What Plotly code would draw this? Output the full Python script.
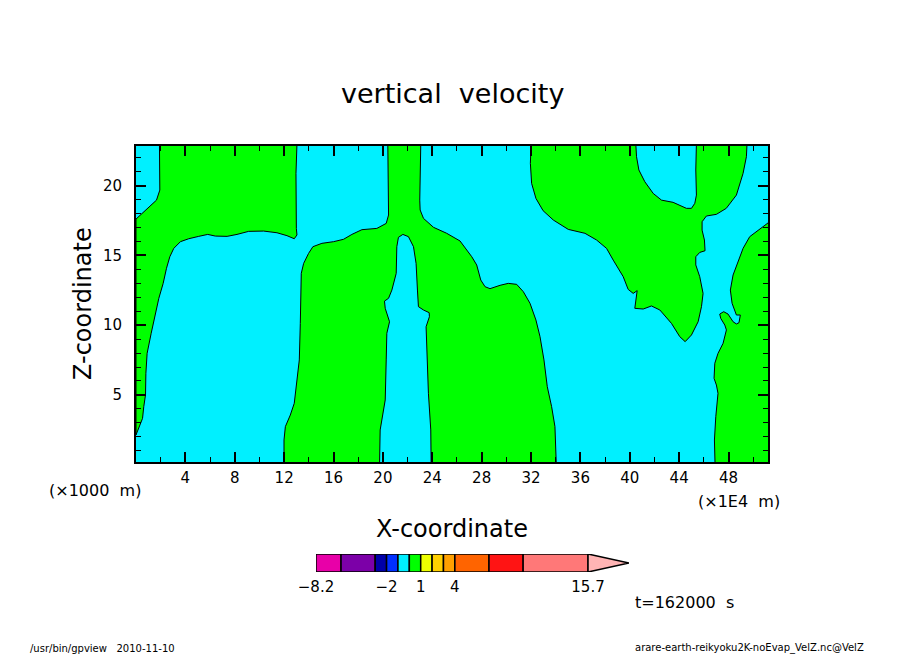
import plotly.graph_objects as go

W, H = 904, 654

# plot frame in data units
x_range = [0, 51.2]
z_range = [0.17, 22.85]
x_ticks = [4, 8, 12, 16, 20, 24, 28, 32, 36, 40, 44, 48]
x_minor = [2, 6, 10, 14, 18, 22, 26, 30, 34, 38, 42, 46, 50]
z_ticks = [5, 10, 15, 20]
z_minor = [1, 2, 3, 4, 6, 7, 8, 9, 11, 12, 13, 14, 16, 17, 18, 19, 21, 22]

# green regions of the contour plot, outlines (x, z)
left_x = [1.90, 1.93, 1.66, 0.90, 0, 0, 0.15, 0.53, 0.63, 0.77, 0.80, 0.90, 1.23, 1.50, 1.85, 2.20,
          2.47, 2.74, 3.06, 3.60, 4.27, 5.08, 5.81, 6.43, 7.38, 8.18, 9.13, 10.34, 11.42, 12.23,
          12.82, 13.04, 12.99, 12.96, 13.04]
left_z = [23, 19.69, 18.97, 18.38, 17.61, 2.13, 2.49, 3.32, 4.16, 5.0, 6.55, 7.98, 9.42, 10.61, 11.93, 13.0,
          14.08, 14.91, 15.51, 15.99, 16.20, 16.37, 16.51, 16.39, 16.37, 16.51, 16.73, 16.75, 16.63, 16.42,
          16.20, 16.47, 16.94, 20.89, 23]

middle_x = [11.99, 11.99, 12.10, 12.50, 12.82, 12.99, 13.23, 13.31, 13.39, 13.58, 13.98, 14.33, 15.06, 16.01,
            16.81, 17.49, 18.30, 19.51, 20.27, 20.46, 20.46, 20.40, 23.07, 23.02, 22.99, 23.02, 23.29, 24.10,
            25.17, 26.25, 26.66, 27.20, 27.60, 27.93, 28.28, 28.68, 29.49, 30.16, 30.84, 31.38, 31.92, 32.40,
            32.73, 33.05, 33.32, 33.67, 33.94, 34.05, 23.91, 23.88, 23.69, 23.56, 23.50, 23.77, 23.75, 23.29,
            22.88, 22.80, 22.69, 22.48, 22.07, 21.62, 21.26, 21.13, 21.08, 20.73, 20.46, 20.13, 20.19, 20.54,
            20.32, 20.27, 20.19, 19.78, 19.73]
middle_z = [0, 1.77, 2.73, 3.56, 4.40, 5.59, 7.51, 10.13, 13.72, 14.43, 15.15, 15.63, 15.87, 15.99,
            16.16, 16.51, 16.85, 16.94, 17.30, 17.90, 20.89, 23, 23, 20.89, 18.97, 18.26, 17.66, 17.02,
            16.59, 16.04, 15.58, 14.91, 14.32, 13.24, 12.76, 12.62, 12.86, 13.0, 12.93, 12.40, 11.57, 10.37,
            9.18, 7.51, 5.59, 4.16, 2.73, 0, 0, 2.49, 5.12, 8.94, 9.89, 10.61, 10.90, 11.09,
            11.33, 12.52, 14.43, 15.63, 16.35, 16.51, 16.30, 15.63, 13.72, 12.52, 11.93, 11.73, 11.21, 10.25,
            9.42, 7.51, 4.64, 2.49, 0]

upper_x = [32.00, 31.95, 32.05, 32.40, 32.98, 33.81, 35.02, 36.37, 37.31, 38.12, 38.66, 39.47, 39.87, 40.28,
           40.60, 40.49, 40.41, 41.09, 41.76, 42.44, 43.38, 44.05, 44.49, 45.00, 45.54, 45.81, 45.94, 45.67,
           45.35, 45.35, 45.67, 46.10, 46.05, 45.86, 45.86, 46.21, 47.02, 47.82, 48.64, 49.18, 49.45, 49.50,
           45.40, 45.35, 45.40, 45.27, 45.00, 44.59, 43.51, 42.57, 41.90, 41.22, 40.74, 40.55, 40.49]
upper_z = [23, 21.60, 20.17, 19.09, 18.21, 17.54, 16.87, 16.59, 16.11, 15.51, 14.67, 13.48, 12.57, 12.28,
           12.48, 11.81, 11.21, 11.16, 11.38, 11.09, 10.13, 9.18, 8.82, 9.30, 10.25, 11.33, 12.28, 13.48,
           14.32, 14.91, 15.22, 15.34, 16.11, 16.82, 17.42, 17.83, 17.95, 18.38, 19.33, 20.89, 22.08, 23,
           23, 21.13, 19.33, 18.74, 18.38, 18.38, 18.81, 18.97, 19.45, 20.29, 21.13, 22.08, 23]

right_x = [46.91, 46.86, 46.97, 47.15, 47.02, 46.83, 46.89, 47.15, 47.56, 47.83, 47.70, 47.37, 47.29, 47.61,
           47.96, 48.37, 48.64, 48.85, 48.96, 48.64, 48.29, 48.15, 48.37, 48.77, 49.18, 49.72, 50.39, 51.07,
           51.3, 51.3]
right_z = [0, 1.77, 3.44, 5.12, 5.71, 6.19, 7.27, 7.98, 8.70, 9.66, 10.01, 10.49, 10.80, 10.97,
           10.80, 10.25, 10.09, 10.18, 10.73, 10.73, 11.57, 12.52, 13.60, 14.55, 15.51, 16.35, 16.82, 17.30,
           17.4, 0]

# tone bar
levels = [-8.2, -6, -3, -2, -1, 0, 1, 2, 3, 4, 7, 10, 15.7]
tones = ["#E800A8", "#7C00A8", "#0000A8", "#0030FF", "#00EEFF", "#00FF00",
         "#EEFF00", "#FFD000", "#FFA000", "#FF6400", "#FF1414", "#FF7878"]
over_tone = "#FFB4B4"
over_tip = 19.3
bar_ticks = [-8.2, -2, 1, 4, 15.7]
bar_labels = ["\u22128.2", "\u22122", "1", "4", "15.7"]

CYAN = "#00F0FF"
GREEN = "#00FF00"
FONT = "DejaVu Sans"

fig = go.Figure()

# cyan everywhere, green on top
fig.add_trace(go.Scatter(x=[0, 51.2, 51.2, 0], y=[0, 0, 23, 23], fill="toself", fillcolor=CYAN,
                         mode="none", showlegend=False))
for px_, pz_ in [(left_x, left_z), (middle_x, middle_z), (upper_x, upper_z), (right_x, right_z)]:
    fig.add_trace(go.Scatter(x=px_, y=pz_, fill="toself", fillcolor=GREEN, mode="lines",
                             line=dict(color="black", width=1), showlegend=False))

for i, tone in enumerate(tones):
    fig.add_trace(go.Bar(x=[levels[i + 1] - levels[i]], base=[levels[i]], y=[0.5], width=1, orientation="h",
                         marker=dict(color=tone, line=dict(color="black", width=1.5)),
                         xaxis="x2", yaxis="y2", showlegend=False, cliponaxis=False))
fig.add_trace(go.Scatter(x=[levels[-1], over_tip, levels[-1], levels[-1]], y=[0, 0.5, 1, 0], fill="toself",
                         fillcolor=over_tone, mode="lines", line=dict(color="black", width=1.5),
                         xaxis="x2", yaxis="y2", showlegend=False, cliponaxis=False))


def label(text, px, py, size, angle=0):
    fig.add_annotation(text=text, x=px / W, y=1 - py / H, xref="paper", yref="paper", showarrow=False,
                       xanchor="center", yanchor="middle", textangle=angle,
                       font=dict(size=size, color="black", family=FONT))


label("vertical  velocity", 452, 93, 27)
label("X-coordinate", 452, 529, 24)
label("Z-coordinate", 83, 304, 24, angle=-90)
label("(\u00d71000  m)", 95, 490, 16)
label("(\u00d71E4  m)", 739, 501, 16)
label("t=162000  s", 684, 602, 16)
label("/usr/bin/gpview   2010-11-10", 102, 648, 10)
label("arare-earth-reikyoku2K-noEvap_VelZ.nc@VelZ", 749, 648, 10)

axis_style = dict(showline=True, linecolor="black", linewidth=2, mirror="allticks", showgrid=False, zeroline=False,
                  automargin=False, ticks="inside", ticklen=10, tickwidth=2, tickcolor="black",
                  tickfont=dict(size=15, family=FONT, color="black"))

fig.update_layout(
    width=W, height=H, margin=dict(l=0, r=0, t=0, b=0, pad=0), paper_bgcolor="white", plot_bgcolor="white",
    barmode="overlay", font=dict(family=FONT),
    xaxis=dict(domain=[136 / W, 768 / W], range=x_range, tickmode="array", tickvals=x_ticks, ticklabelstandoff=1,
               minor=dict(ticks="inside", ticklen=5, tickwidth=1, tickcolor="black", tickmode="array", tickvals=x_minor),
               **axis_style),
    yaxis=dict(domain=[1 - 462.3 / H, 1 - 146 / H], range=z_range, tickmode="array", tickvals=z_ticks, ticklabelstandoff=9,
               minor=dict(ticks="inside", ticklen=5, tickwidth=1, tickcolor="black", tickmode="array", tickvals=z_minor),
               **axis_style),
    xaxis2=dict(domain=[316 / W, 629 / W], range=[levels[0], over_tip], anchor="y2", automargin=False, tickmode="array",
                tickvals=bar_ticks, ticktext=bar_labels, ticks="outside", ticklen=1, tickcolor="rgba(0,0,0,0)",
                showgrid=False, zeroline=False, showline=False, tickfont=dict(size=15, family=FONT, color="black")),
    yaxis2=dict(domain=[1 - 572 / H, 1 - 554 / H], range=[0, 1], anchor="x2", visible=False, automargin=False),
)

fig.write_html("out.html", config={"displayModeBar": False}, post_script="document.body.style.margin='0';")
